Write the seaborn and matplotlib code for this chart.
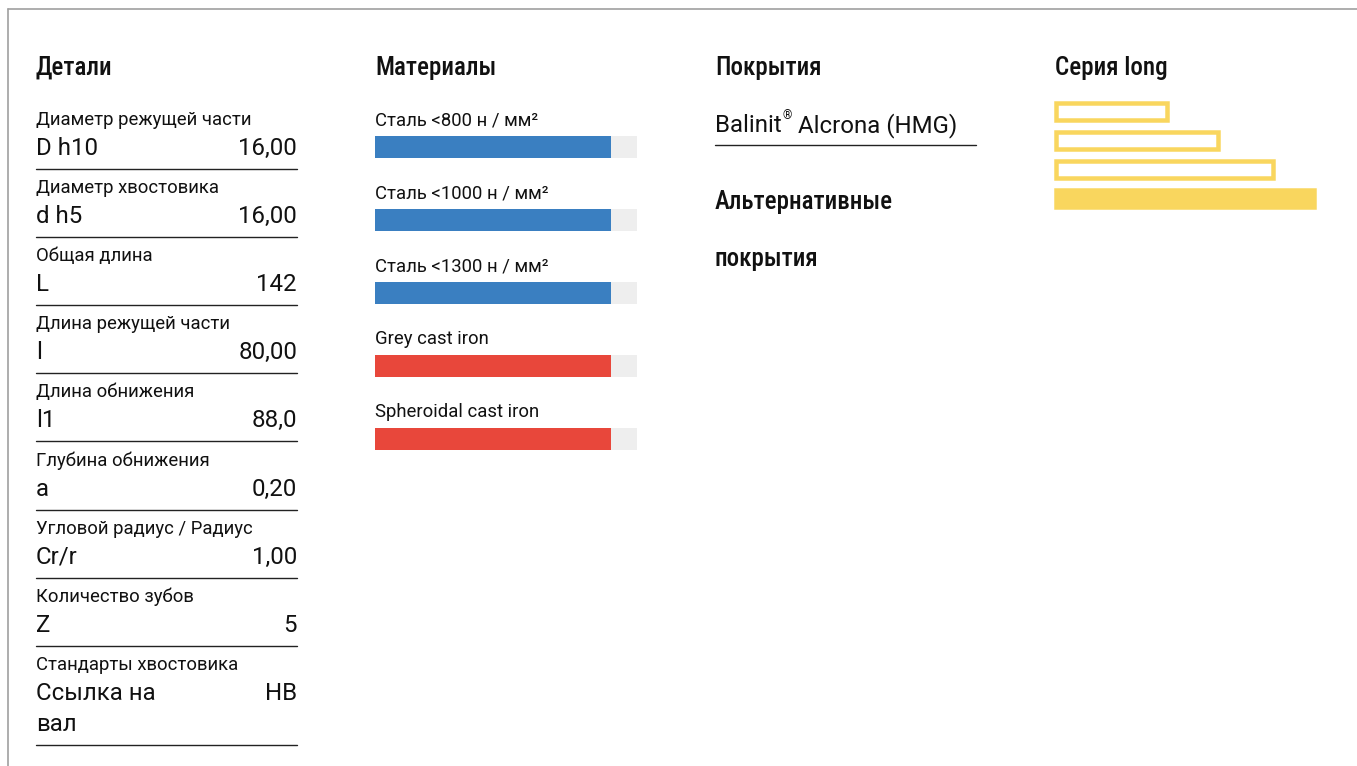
import matplotlib
matplotlib.use("Agg")
import matplotlib.pyplot as plt
from matplotlib import font_manager
import seaborn as sns
import pandas as pd

W, H = 1357, 766

# --- data -------------------------------------------------------------
DETAIL_LABELS = [
    "Диаметр режущей части", "Диаметр хвостовика", "Общая длина",
    "Длина режущей части", "Длина обнижения", "Глубина обнижения",
    "Угловой радиус / Радиус", "Количество зубов", "Стандарты хвостовика",
]
DETAIL_SYMBOLS = ["D h10", "d h5", "L", "l", "l1", "a", "Cr/r", "Z", "Ссылка на\nвал"]
DETAIL_VALUES = ["16,00", "16,00", "142", "80,00", "88,0", "0,20", "1,00", "5", "HB"]

MATERIALS = ["Сталь <800 н / мм²", "Сталь <1000 н / мм²", "Сталь <1300 н / мм²",
             "Grey cast iron", "Spheroidal cast iron"]
MATERIAL_SCORE = [90, 90, 90, 90, 90]
MATERIAL_MAX = 100
MATERIAL_COLORS = ["#3A7FC1", "#3A7FC1", "#3A7FC1", "#E8473B", "#E8473B"]

COATING = ["Balinit", "®", " Alcrona (HMG)"]
ALT_TITLE = ["Альтернативные", "покрытия"]

SERIES_LEVELS = ["1", "2", "3", "4"]
SERIES_LENGTH = [43, 63, 84, 100]
SERIES_ACTIVE = "4"
YELLOW = "#F9D65E"

# --- style ------------------------------------------------------------
sns.set_theme(style="white")
names = {f.name for f in font_manager.fontManager.ttflist}
BODY = "Roboto" if "Roboto" in names else "DejaVu Sans"
HEAD = BODY
for cand in ["Roboto Condensed", "Liberation Sans Narrow", "DejaVu Sans Condensed"]:
    if cand in names:
        HEAD = cand
        break
plt.rcParams["font.family"] = [BODY, "DejaVu Sans"]

PT = 0.72  # px -> pt at dpi 100
head_kw = dict(fontsize=25 * PT, fontweight="medium", family=[HEAD, "DejaVu Sans"], color="#111111")
label_kw = dict(fontsize=18.5 * PT, color="#111111")
value_kw = dict(fontsize=24 * PT, color="#111111")

fig = plt.figure(figsize=(W / 100, H / 100), dpi=100)
ax = fig.add_axes([0, 0, 1, 1])
ax.set_xlim(0, W)
ax.set_ylim(H, 0)
ax.axis("off")

# outer frame (top + left)
ax.plot([8, W], [9, 9], color="#A0A0A0", lw=1.2)
ax.plot([8, 8], [9, H], color="#A0A0A0", lw=1.2)

# headings
for x, t in [(36, "Детали"), (375, "Материалы"), (715, "Покрытия"), (1055, "Серия long")]:
    ax.text(x, 75, t, va="baseline", ha="left", **head_kw)

# --- details column ---------------------------------------------------
step = 68.1
for i, (lab, sym, val) in enumerate(zip(DETAIL_LABELS, DETAIL_SYMBOLS, DETAIL_VALUES)):
    y0 = 125 + step * i
    ax.text(36, y0, lab, va="baseline", **label_kw)
    lines = sym.split("\n")
    for k, ln in enumerate(lines):
        ax.text(36, y0 + 30 + 31 * k, ln, va="baseline", **value_kw)
    ax.text(297, y0 + 30, val, va="baseline", ha="right", **value_kw)
    ysep = y0 + 44 + 31 * (len(lines) - 1)
    ax.plot([36, 297], [ysep, ysep], color="#222222", lw=1.0)

# --- materials --------------------------------------------------------
df_mat = pd.DataFrame({"material": MATERIALS, "score": MATERIAL_SCORE,
                       "max": [MATERIAL_MAX] * len(MATERIALS)})
mx0, mx1, mtop, mstep = 375, 637, 110.4, 73
axm = fig.add_axes([mx0 / W, 1 - (mtop + mstep * 5) / H, (mx1 - mx0) / W, mstep * 5 / H])
bw = 0.297
sns.barplot(data=df_mat, x="max", y="material", orient="h", color="#EEEEEE",
            width=bw, saturation=1, linewidth=0, ax=axm)
sns.barplot(data=df_mat, x="score", y="material", hue="material", palette=MATERIAL_COLORS,
            orient="h", width=bw, saturation=1, linewidth=0, legend=False, ax=axm)
for i, m in enumerate(MATERIALS):
    axm.text(0, i - bw / 2 - 0.15, m, va="baseline", ha="left", **label_kw)
axm.set_xlim(0, MATERIAL_MAX)
axm.set_ylim(len(MATERIALS) - 0.5, -0.5)
axm.axis("off")

# --- coatings ---------------------------------------------------------
renderer = fig.canvas.get_renderer()
t1 = ax.text(715, 132, COATING[0], va="baseline", **value_kw)
x_r = ax.transData.inverted().transform(t1.get_window_extent(renderer))[1][0]
t2 = ax.text(x_r + 1, 119, COATING[1], va="baseline", fontsize=12 * PT, color="#111111")
x_r2 = ax.transData.inverted().transform(t2.get_window_extent(renderer))[1][0]
ax.text(x_r2, 132, COATING[2], va="baseline", **value_kw)
ax.plot([715, 976], [145, 145], color="#222222", lw=1.0)
ax.text(715, 209, ALT_TITLE[0], va="baseline", **head_kw)
ax.text(715, 266, ALT_TITLE[1], va="baseline", **head_kw)

# --- series long ------------------------------------------------------
df_ser = pd.DataFrame({"level": SERIES_LEVELS, "length": SERIES_LENGTH})
sx0, sx1, stop, sstep = 1056.25, 1313.75, 96.7, 29.2
axs = fig.add_axes([sx0 / W, 1 - (stop + sstep * 4) / H, (sx1 - sx0) / W, sstep * 4 / H])
sns.barplot(data=df_ser, x="length", y="level", orient="h", color=YELLOW,
            width=0.58, saturation=1, ax=axs)
for lvl, p in zip(SERIES_LEVELS, axs.patches):
    p.set_edgecolor(YELLOW)
    p.set_linewidth(4.5 * PT)
    p.set_facecolor(YELLOW if lvl == SERIES_ACTIVE else "white")
    p.set_clip_on(False)
axs.set_xlim(0, 100)
axs.set_ylim(len(SERIES_LEVELS) - 0.5, -0.5)
axs.axis("off")

fig.savefig("out.png", dpi=100, facecolor="white")
